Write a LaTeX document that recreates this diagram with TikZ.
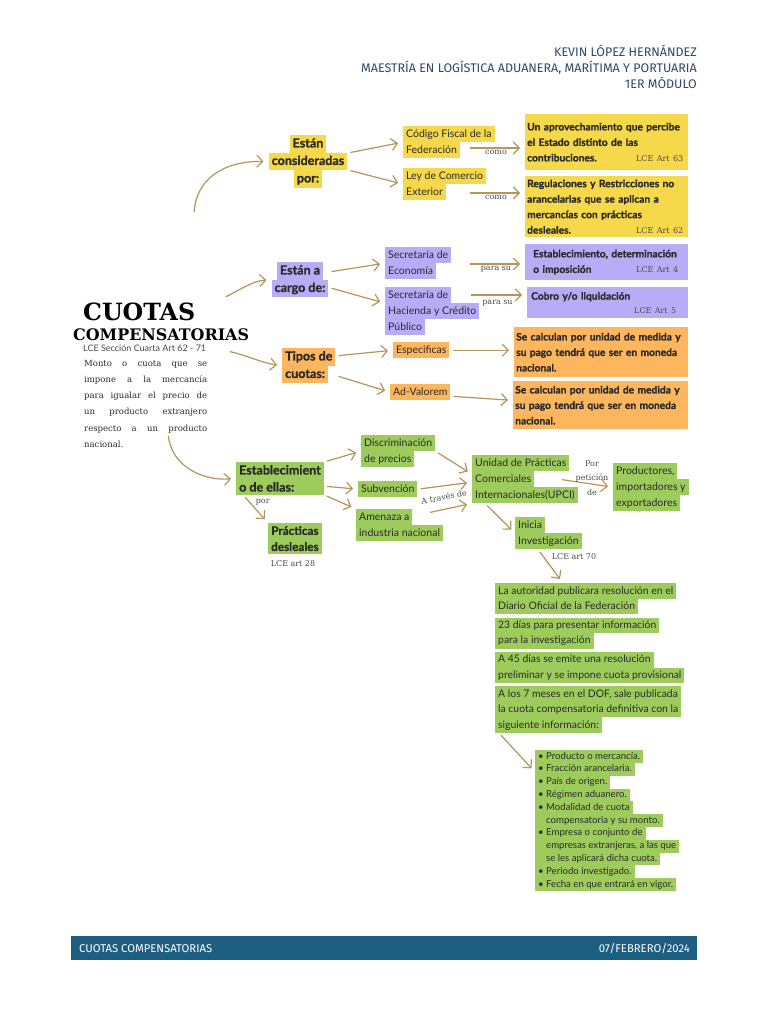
\documentclass[tikz,border=0pt]{standalone}
\usepackage{fontspec}
\setmainfont{Lato}[BoldFeatures={FakeBold=1.2}]
\newfontfamily\slab{DejaVu Serif}
\newfontfamily\cabecera{Fira Sans}
\usetikzlibrary{arrows.meta,positioning}

\definecolor{amarillo}{HTML}{F6D84B}
\definecolor{lila}{HTML}{B8ACF7}
\definecolor{naranja}{HTML}{FDB55E}
\definecolor{verde}{HTML}{9DCC5C}
\definecolor{cafe}{HTML}{B6955C}
\definecolor{azulpie}{HTML}{1C5F80}
\definecolor{azultxt}{HTML}{2F4A66}
\definecolor{tinta}{HTML}{2A2A2A}
\definecolor{gris}{HTML}{4A4A4A}

\setlength{\fboxsep}{0pt}
\newcommand{\hlcol}{verde}
\newcommand{\hl}[1]{\colorbox{\hlcol}{\hspace{3pt}\rule[-0.3\baselineskip]{0pt}{\baselineskip}#1\hspace{3pt}}}
\newcommand{\art}[1]{{\slab\mdseries\fontsize{8}{9}\selectfont\color{gris}#1}}
\newcommand{\vineta}{\makebox[8pt][l]{\textbullet}}
\newcommand{\sangria}{\hspace*{8pt}}

\begin{document}
\begin{tikzpicture}[x=1pt, y=-1pt,
  flecha/.style={draw=cafe, line width=1.2pt, shorten <=3pt, shorten >=5pt,
    -{Straight Barb[length=6pt,width=12pt]}},
  resalta/.style={anchor=north west, inner sep=0pt, align=left, text=tinta,
    execute at begin node={\def\hlcol{#1}}},
  texto/.style={font=\fontsize{10.5}{16}\selectfont},
  lista/.style={font=\fontsize{10.4}{15.5}\selectfont},
  titulo/.style={font=\bfseries\fontsize{12.5}{17.5}\selectfont},
  caja/.style={anchor=north west, inner xsep=2pt, inner ysep=3pt, align=left, text=tinta,
    font=\bfseries\fontsize{10.2}{15.5}\selectfont},
  nota/.style={font=\slab\fontsize{8}{9}\selectfont, text=gris, inner sep=1pt},
  cab/.style={font=\cabecera\fontsize{12.5}{14}\selectfont, text=azultxt,
    inner sep=0pt, anchor=base east},
  pie/.style={font=\cabecera\fontsize{11.3}{13}\selectfont, text=white, inner sep=0pt}]

  \useasboundingbox (0,0) rectangle (768,1024);
  \fill[white] (0,0) rectangle (768,1024);

  % encabezado
  \node[cab] (autor) at (697,57) {KEVIN LÓPEZ HERNÁNDEZ};
  \node[cab] (maestria) at (697,73) {MAESTRÍA EN LOGÍSTICA ADUANERA, MARÍTIMA Y PORTUARIA};
  \node[cab] (modulo) at (697,89) {1ER MÓDULO};

  % titulo y definicion
  \node[anchor=base west, inner sep=0pt, text=black, font=\slab\bfseries\fontsize{23.7}{24}\selectfont] (cuotas) at (83,320) {CUOTAS};
  \node[anchor=base west, inner sep=0pt, text=black, font=\slab\bfseries\fontsize{15.9}{16}\selectfont] (compens) at (73,340) {COMPENSATORIAS};
  \node[anchor=base west, inner sep=0pt, text=gris, font=\fontsize{9}{10}\selectfont] (seccion) at (83,351) {LCE Sección Cuarta Art 62 - 71};
  \node[anchor=north west, inner sep=0pt, text width=123pt, align=justify, text=tinta,
    font=\slab\fontsize{8.5}{16.2}\selectfont] (monto) at (84,360)
    {Monto o cuota que se\linebreak impone a la mercancía\linebreak para igualar el precio de\linebreak un producto extranjero\linebreak respecto a un producto\linebreak nacional.};

  % consideradas (amarillo)
  \node[resalta=amarillo, titulo, align=center, anchor=north] (cons) at (308,135) {\hl{Están}\\\hl{consideradas}\\\hl{por:}};
  \node[resalta=amarillo, texto] (cff) at (403,126) {\hl{Código Fiscal de la}\\\hl{Federación}};
  \node[resalta=amarillo, texto] (lce) at (403,168) {\hl{Ley de Comercio}\\\hl{Exterior}};
  \node[caja, fill=amarillo, text width=159pt, minimum height=56pt] (aprov) at (525,114)
    {Un aprovechamiento que percibe\\el Estado distinto de las\\contribuciones.\hspace*{\fill}\art{LCE Art 63}\hspace*{3pt}};
  \node[caja, fill=amarillo, text width=159pt, minimum height=61pt] (reg) at (525,176)
    {Regulaciones y Restricciones no\\arancelarias que se aplican a\\mercancías con prácticas\\desleales.\hspace*{\fill}\art{LCE Art 62}\hspace*{3pt}};

  % a cargo (lila)
  \node[resalta=lila, titulo, align=center, anchor=north] (cargo) at (300,262) {\hl{Están a}\\\hl{cargo de:}};
  \node[resalta=lila, texto] (eco) at (385,247) {\hl{Secretaría de}\\\hl{Economía}};
  \node[resalta=lila, texto] (hac) at (385,287) {\hl{Secretaría de}\\\hl{Hacienda y Crédito}\\\hl{Público}};
  \node[caja, fill=lila, text width=155pt, inner xsep=4pt, minimum height=36pt] (estab) at (525,244)
    {\hspace*{4pt}Establecimiento, determinación\\\hspace*{4pt}o imposición\hspace*{\fill}\art{LCE Art 4}\hspace*{6pt}};
  \node[caja, fill=lila, text width=153pt, inner xsep=4pt, minimum height=31pt] (cobro) at (527,287)
    {Cobro y/o liquidación\\[-2pt]\hspace*{\fill}\art{LCE Art 5}\hspace*{8pt}};

  % tipos (naranja)
  \node[resalta=naranja, titulo] (tipos) at (282,348) {\hl{Tipos de}\\\hl{cuotas:}};
  \node[resalta=naranja, texto] (espec) at (393,342) {\hl{Especificas}};
  \node[resalta=naranja, texto] (adval) at (390,384) {\hl{Ad-Valorem}};
  \node[caja, fill=naranja, text width=170pt, minimum height=50pt] (pago1) at (514,327)
    {Se calculan por unidad de medida y\\su pago tendrá que ser en moneda\\nacional.};
  \node[caja, fill=naranja, text width=171pt, minimum height=48pt] (pago2) at (513,381)
    {Se calculan por unidad de medida y\\su pago tendrá que ser en moneda\\nacional.};

  % establecimiento (verde)
  \node[caja, fill=verde, inner xsep=3pt, font=\bfseries\fontsize{12.5}{17}\selectfont] (establ) at (236,462) {Establecimient\\o de ellas:};
  \node[resalta=verde, texto] (disc) at (361,435) {\hl{Discriminación}\\\hl{de precios}};
  \node[resalta=verde, texto] (subv) at (358,481) {\hl{Subvención}};
  \node[resalta=verde, texto] (amen) at (356,509) {\hl{Amenaza a}\\\hl{industria nacional}};
  \node[caja, fill=verde, inner xsep=3pt, align=center, font=\bfseries\fontsize{11.7}{16}\selectfont] (prac) at (268,523) {Prácticas\\desleales};
  \node[nota] (art28) at (293,564) {LCE art 28};
  \node[resalta=verde, texto] (upci) at (472,455) {\hl{Unidad de Prácticas}\\\hl{Comerciales}\\\hl{Internacionales(UPCI)}};
  \node[resalta=verde, texto] (prod) at (613,463) {\hl{Productores,}\\\hl{importadores y}\\\hl{exportadores}};
  \node[resalta=verde, texto] (inicia) at (515,517) {\hl{Inicia}\\\hl{Investigación}};

  % procedimiento
  \node[resalta=verde, lista] (paso1) at (495,583) {\hl{La autoridad publicara resolución en el}\\\hl{Diario Oficial de la Federación}};
  \node[resalta=verde, lista] (paso2) at ([yshift=-3pt]paso1.south west) {\hl{23 días para presentar información}\\\hl{para la investigación}};
  \node[resalta=verde, lista] (paso3) at ([yshift=-3pt]paso2.south west) {\hl{A 45 días se emite una resolución}\\\hl{preliminar y se impone cuota provisional}};
  \node[resalta=verde, lista] (paso4) at ([yshift=-3pt]paso3.south west) {\hl{A los 7 meses en el DOF, sale publicada}\\\hl{la cuota compensatoria definitiva con la}\\\hl{siguiente información:}};
  \node[resalta=verde, font=\fontsize{9.6}{12.8}\selectfont] (datos) at (535,750)
    {\hl{\vineta Producto o mercancía.}\\\hl{\vineta Fracción arancelaria.}\\\hl{\vineta País de origen.}\\
     \hl{\vineta Régimen aduanero.}\\\hl{\vineta Modalidad de cuota}\\\hl{\sangria compensatoria y su monto.}\\
     \hl{\vineta Empresa o conjunto de}\\\hl{\sangria empresas extranjeras, a las que}\\\hl{\sangria se les aplicará dicha cuota.}\\
     \hl{\vineta Periodo investigado.}\\\hl{\vineta Fecha en que entrará en vigor.}};

  % flechas
  \coordinate (ini1) at (194,215);
  \coordinate (ini2) at (223,298);
  \coordinate (ini3) at (227,351);
  \coordinate (ini4) at (168,433);
  \coordinate (cffsal) at (467,148);
  \coordinate (lcesal) at (467,193);
  \coordinate (ecosal) at (467,264);
  \coordinate (hacsal) at (468,295);

  \draw[flecha] (ini1) .. controls (196,180) and (222,161) .. (cons.west);
  \draw[flecha] (ini2) .. controls (240,290) and (252,281) .. (cargo.west);
  \draw[flecha] (ini3) .. controls (246,355) and (262,363) .. (tipos.west);
  \draw[flecha] (ini4) .. controls (172,468) and (205,481) .. (establ.west);

  \draw[flecha] (cons.12) -- (cff.west);
  \draw[flecha] (cons.-12) -- (lce.west);
  \draw[flecha] (cffsal) -- node[nota, below=1pt] (como1) {como} (aprov.west |- cffsal);
  \draw[flecha] (lcesal) -- node[nota, below=1pt] (como2) {como} (reg.west |- lcesal);

  \draw[flecha] (cargo.15) -- (eco.west);
  \draw[flecha] (cargo.-15) -- ([yshift=8pt]hac.west);
  \draw[flecha] (ecosal) -- node[nota, below=1pt] (parasu1) {para su} (estab.west |- ecosal);
  \draw[flecha] (hacsal) -- node[nota, below=4pt] (parasu2) {para su} (cobro.west |- hacsal);

  \draw[flecha] (tipos.20) -- (espec.west);
  \draw[flecha] (tipos.-20) -- (adval.west);
  \draw[flecha] (espec.east) -- (pago1.west |- espec.east);
  \draw[flecha] ([yshift=-4pt]adval.east) -- (pago2.west |- adval.south);

  \draw[flecha] (establ.north east) -- (disc.west);
  \draw[flecha] (establ.-10) -- (subv.west);
  \draw[flecha] (establ.south east) -- (amen.north west);
  \draw[flecha] ([xshift=7pt]establ.south west) -- node[nota, pos=0.25, right=5pt] (por) {por} (prac.north west);
  \draw[flecha] (disc.east) -- ([yshift=5pt]upci.west);
  \draw[flecha] (subv.east) -- ([yshift=-3pt]upci.west);
  \draw[flecha] ([xshift=-16pt,yshift=-4pt]amen.north east) -- (upci.south west);
  \node[nota, rotate=10] (traves) at (444,497) {A través de};
  \draw[flecha] ([xshift=-19pt]upci.east) -- (prod.west);
  \node[nota, align=center, font=\slab\fontsize{8}{14.5}\selectfont] (peticion) at (592,478) {Por\\petición\\de};
  \draw[flecha] ([xshift=13pt]upci.south west) -- (inicia.west);
  \draw[flecha] ([xshift=23pt]inicia.south west) -- ([xshift=68pt]paso1.north west);
  \node[nota] (art70) at (574,557) {LCE art 70};
  \draw[flecha] ([xshift=4pt]paso4.south west) -- ([yshift=-22pt]datos.north west);

  % pie
  \fill[azulpie] (71,936) rectangle (697,960);
  \node[pie, anchor=base west] (pieizq) at (79,952) {CUOTAS COMPENSATORIAS};
  \node[pie, anchor=base east] (pieder) at (690,952) {07/FEBRERO/2024};
\end{tikzpicture}
\end{document}
